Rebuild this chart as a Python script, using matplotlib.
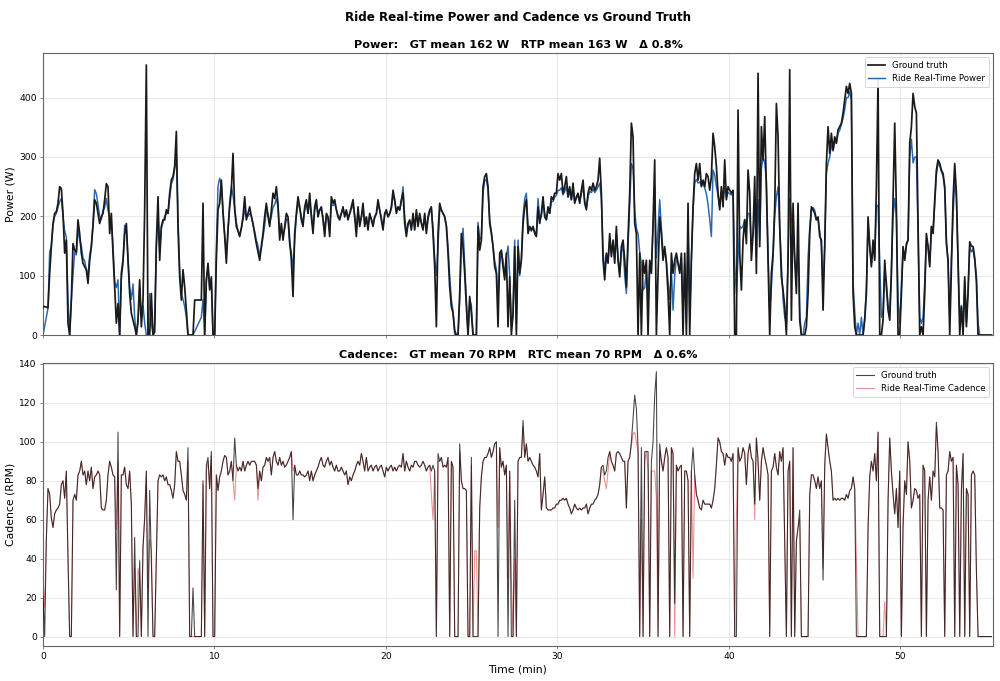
import numpy as np
import matplotlib
matplotlib.use("Agg")
import matplotlib.pyplot as plt

# samples are ~5.8 s apart (0.0972 min)
SAMPLE_MIN = 0.0972

# power, ground truth (W)
gt_power = [
    48, 48, 47, 46, 104, 149, 188, 205, 208, 222,
    250, 247, 205, 138, 160, 20, 0, 59, 154, 143,
    140, 194, 171, 138, 121, 115, 110, 87, 126, 149,
    183, 228, 222, 205, 188, 199, 205, 228, 255, 250,
    171, 205, 138, 81, 20, 53, 0, 104, 126, 170,
    188, 126, 70, 37, 25, 14, 0, 25, 93, 14,
    59, 211, 455, 0, 0, 70, 0, 5, 154, 233,
    126, 183, 194, 194, 211, 205, 239, 261, 267, 284,
    343, 180, 98, 59, 110, 81, 42, 0, 0, 0,
    0, 59, 59, 59, 59, 59, 222, 0, 93, 121,
    76, 98, 0, 0, 126, 211, 222, 261, 205, 166,
    121, 180, 216, 244, 306, 211, 183, 175, 166, 180,
    199, 233, 194, 205, 216, 200, 188, 170, 154, 140,
    126, 150, 171, 200, 222, 200, 183, 210, 239, 230,
    250, 220,
    160, 188, 160, 183, 205, 199, 160, 126, 65, 171,
    205, 233, 216, 194, 183, 216, 228, 205, 239, 199,
    171, 216, 228, 199, 211, 216, 194, 166, 205, 199,
    166, 233, 222, 228, 211, 199, 194, 205, 216, 199,
    211, 194, 205, 216, 228, 199, 166, 216, 183, 199,
    222, 183, 199, 177, 205, 194, 183, 199, 205, 228,
    211, 194, 177, 205, 211, 199, 205, 216, 244, 228,
    205, 216, 211, 228, 240, 188, 166, 188, 194, 177,
    205, 177, 211, 183, 205, 188, 177, 205, 171, 199,
    211, 216, 171, 115, 14, 171, 222, 211, 205, 199,
    183, 138, 81, 48, 37, 8, 0, 0, 70, 171,
    149, 104, 48, 0, 65, 37, 0, 0, 0, 183,
    143, 160, 250, 267, 272, 250, 188, 171, 149, 115,
    104, 14, 138, 143, 115, 93, 138, 14, 98, 0,
    37, 149, 0, 149,
    104, 126, 188, 216, 228, 171, 183, 177, 183, 171,
    166, 216, 188, 205, 233, 199, 194, 216, 205, 233,
    228, 239, 239, 272, 261, 272, 239, 250, 267, 233,
    250, 228, 256, 222, 233, 239, 222, 244, 261, 222,
    211, 239, 250, 244, 256, 244, 250, 261, 298, 239,
    126, 93, 138, 121, 171, 132, 160, 121, 183, 126,
    98, 149, 160, 126, 81, 166, 239, 357, 334, 188,
    171, 0, 138, 0, 126, 104, 126, 0, 126, 104,
    188, 295, 0, 104, 199, 171, 126, 149, 121, 70,
    0, 138, 104, 126, 138, 121, 104, 138, 0, 138,
    0, 222, 0, 126, 216, 272, 289, 261, 289, 250,
    261, 250, 272, 267, 244, 267, 340, 317, 284, 239,
    211, 250, 216, 295, 228, 250, 244, 239, 244, 0,
    0, 379, 138, 76, 160, 194, 154, 278, 239, 126,
    171, 267, 104, 441,
    149, 351, 295, 368, 250, 126, 0, 104, 138, 216,
    390, 334, 183, 98, 76, 48, 0, 126, 447, 25,
    222, 126, 70, 222, 25, 0, 0, 0, 14, 70,
    171, 216, 211, 205, 194, 199, 166, 160, 42, 149,
    289, 351, 306, 340, 312, 334, 323, 346, 351, 357,
    374, 396, 419, 407, 424, 407, 70, 14, 0, 0,
    0, 0, 0, 25, 70, 199, 149, 115, 160, 126,
    250, 430, 0, 0, 25, 126, 81, 42, 25, 104,
    228, 357, 211, 0, 0, 70, 149, 126, 154, 160,
    323, 351, 407, 385, 374, 183, 0, 14, 0, 70,
    171, 149, 115, 183, 171, 228, 278, 295, 289, 278,
    272, 250, 154, 126, 0, 115, 228, 289, 239, 126,
    0, 48, 0, 98, 14, 70, 157, 150, 149, 130,
    90, 0, 0, 0, 0, 0, 0, 0, 0, 0,
]

# power, Ride real-time estimate (W)
rtp_power = [
    0, 15, 30, 45, 140, 150, 185, 200, 205, 215,
    225, 230, 200, 175, 165, 60, 0, 60, 100, 140,
    135, 180, 160, 150, 130, 125, 110, 100, 135, 150,
    190, 245, 238, 220, 200, 195, 210, 215, 230, 210,
    200, 190, 150, 90, 80, 93, 0, 95, 120, 185,
    180, 130, 80, 60, 86, 30, 0, 20, 80, 30,
    50, 20, 0, 0, 70, 20, 0, 20, 150, 200,
    140, 180, 190, 200, 205, 205, 230, 255, 262, 280,
    300, 200, 110, 70, 60, 48, 30, 0, 0, 0,
    0, 6, 12, 18, 24, 30, 60, 0, 90, 115,
    80, 90, 0, 0, 150, 250, 264, 255, 210, 170,
    140, 170, 225, 250, 235, 215, 190, 175, 170, 180,
    195, 210, 200, 200, 205, 200, 185, 175, 160, 150,
    135, 145, 165, 185, 210, 205, 190, 200, 215, 220,
    230, 215,
    170, 175, 170, 180, 195, 195, 150, 140, 110, 160,
    200, 220, 215, 200, 190, 210, 220, 205, 225, 205,
    180, 210, 220, 205, 210, 212, 198, 178, 200, 198,
    175, 220, 218, 222, 212, 202, 198, 205, 212, 202,
    208, 198, 204, 212, 220, 202, 178, 208, 188, 198,
    215, 188, 198, 182, 202, 196, 188, 198, 204, 220,
    210, 198, 182, 202, 208, 200, 204, 212, 236, 226,
    208, 214, 210, 224, 250, 200, 175, 185, 192, 182,
    200, 182, 206, 186, 202, 190, 180, 200, 176, 196,
    206, 212, 180, 130, 100, 150, 210, 210, 205, 200,
    185, 150, 100, 60, 40, 0, 0, 0, 60, 150,
    180, 120, 60, 0, 60, 50, 0, 0, 0, 190,
    160, 165, 240, 260, 262, 245, 195, 175, 150, 125,
    110, 60, 120, 140, 125, 100, 130, 150, 100, 20,
    30, 160, 20, 160,
    100, 130, 200, 230, 239, 185, 180, 175, 180, 175,
    170, 230, 195, 200, 225, 205, 195, 210, 205, 225,
    225, 232, 236, 244, 244, 248, 236, 242, 250, 232,
    242, 228, 245, 225, 230, 235, 225, 238, 248, 226,
    215, 232, 242, 240, 246, 240, 244, 250, 256, 230,
    140, 110, 135, 125, 160, 138, 155, 128, 170, 130,
    105, 140, 150, 100, 70, 150, 220, 289, 280, 211,
    180, 171, 140, 120, 76, 80, 110, 60, 120, 110,
    180, 250, 130, 180, 228, 180, 140, 145, 125, 90,
    60, 110, 42, 100, 130, 120, 110, 130, 40, 120,
    20, 180, 30, 130, 210, 256, 262, 256, 258, 252,
    256, 248, 238, 220, 195, 166, 278, 270, 250, 235,
    215, 240, 225, 250, 232, 240, 238, 236, 238, 120,
    70, 130, 183, 180, 183, 195, 180, 205, 205, 150,
    170, 220, 130, 228,
    160, 280, 300, 290, 260, 140, 40, 80, 130, 200,
    233, 250, 180, 120, 60, 30, 20, 130, 230, 200,
    170, 130, 100, 140, 40, 0, 0, 20, 30, 130,
    180, 210, 215, 210, 195, 195, 175, 150, 80, 150,
    272, 290, 300, 320, 310, 325, 325, 340, 345, 355,
    365, 380, 400, 400, 410, 395, 90, 40, 0, 20,
    0, 30, 0, 30, 80, 190, 150, 120, 150, 130,
    220, 216, 120, 30, 40, 110, 90, 50, 40, 110,
    200, 230, 200, 60, 20, 80, 140, 130, 150, 160,
    300, 330, 290, 300, 300, 170, 30, 20, 30, 90,
    160, 150, 120, 180, 175, 220, 270, 290, 285, 275,
    268, 245, 160, 120, 30, 130, 200, 260, 230, 120,
    30, 50, 10, 90, 20, 80, 150, 140, 145, 125,
    100, 20, 0, 0, 0, 0, 0, 0, 0, 0,
]

# cadence, ground truth (RPM)
gt_cadence = [
    21, 0, 50, 76, 73, 61, 56, 63, 65, 66,
    68, 78, 80, 71, 85, 40, 0, 0, 70, 73,
    70, 83, 85, 90, 83, 85, 78, 85, 80, 87,
    76, 82, 83, 85, 83, 66, 65, 65, 70, 83,
    90, 87, 83, 82, 24, 105, 0, 83, 83, 87,
    78, 76, 85, 68, 0, 51, 0, 0, 39, 0,
    46, 61, 85, 0, 75, 39, 0, 0, 39, 80,
    83, 82, 83, 80, 82, 78, 78, 75, 71, 78,
    95, 90, 90, 83, 75, 73, 70, 97, 0, 0,
    25, 0, 0, 0, 0, 0, 80, 0, 88, 92,
    76, 95, 0, 0, 83, 75, 82, 85, 90, 93,
    92, 83, 85, 90, 80, 102, 88, 85, 87, 85,
    90, 85, 88, 90, 88, 90, 90, 90, 88, 76,
    85, 80, 87, 88, 92, 90, 92, 83, 92, 95,
    90, 88,
    92, 88, 90, 87, 88, 90, 92, 95, 60, 88,
    83, 83, 85, 83, 83, 82, 83, 85, 80, 85,
    80, 83, 85, 87, 90, 92, 88, 87, 90, 92,
    88, 90, 87, 85, 88, 85, 85, 87, 85, 83,
    85, 78, 82, 80, 83, 85, 88, 90, 88, 94,
    90, 85, 92, 85, 87, 88, 85, 87, 88, 85,
    87, 88, 85, 82, 87, 85, 87, 88, 85, 87,
    85, 87, 88, 87, 94, 85, 90, 87, 85, 88,
    87, 90, 90, 88, 87, 88, 90, 88, 85, 87,
    88, 85, 88, 85, 0, 94, 90, 92, 87, 88,
    87, 92, 0, 90, 87, 0, 0, 0, 99, 80,
    76, 76, 75, 0, 0, 92, 0, 0, 0, 0,
    66, 82, 90, 92, 92, 94, 97, 92, 95, 99,
    100, 0, 97, 87, 90, 83, 88, 0, 85, 0,
    0, 70, 0, 90,
    92, 92, 111, 92, 99, 90, 92, 90, 88, 87,
    85, 82, 94, 65, 73, 82, 66, 65, 65, 65,
    66, 66, 68, 68, 70, 70, 71, 70, 71, 68,
    66, 63, 65, 68, 66, 65, 66, 65, 66, 66,
    68, 63, 66, 68, 68, 70, 71, 73, 78, 87,
    88, 83, 85, 92, 95, 90, 88, 85, 94, 95,
    94, 92, 90, 90, 66, 90, 92, 100, 112, 124,
    117, 97, 0, 97, 0, 95, 95, 95, 0, 90,
    100, 124, 136, 0, 99, 90, 85, 92, 97, 92,
    0, 97, 94, 17, 88, 85, 87, 88, 0, 85,
    85, 80, 0, 85, 97, 83, 73, 70, 66, 65,
    70, 68, 68, 68, 68, 66, 70, 76, 88, 102,
    100, 95, 94, 88, 94, 92, 92, 90, 94, 0,
    0, 97, 90, 92, 97, 94, 78, 94, 99, 92,
    90, 68, 102, 90,
    70, 90, 97, 92, 88, 83, 0, 85, 87, 94,
    87, 83, 95, 90, 97, 49, 0, 85, 90, 0,
    97, 0, 49, 56, 65, 0, 0, 0, 0, 0,
    73, 83, 83, 80, 76, 82, 76, 80, 29, 88,
    104, 97, 90, 85, 70, 71, 70, 71, 70, 71,
    71, 70, 73, 71, 75, 76, 82, 76, 0, 0,
    0, 0, 0, 0, 0, 56, 82, 90, 85, 94,
    80, 105, 0, 0, 0, 0, 0, 70, 102, 85,
    73, 63, 76, 56, 85, 0, 56, 80, 73, 100,
    90, 66, 70, 76, 75, 71, 73, 0, 88, 85,
    0, 70, 82, 70, 85, 82, 110, 95, 66, 66,
    65, 0, 83, 85, 95, 90, 92, 0, 88, 78,
    0, 75, 94, 0, 76, 73, 0, 83, 85, 83,
    34, 0, 0, 0, 0, 0, 0, 0, 0, 0,
]

# cadence, Ride real-time estimate (RPM)
rtc_cadence = [
    30, 15, 50, 76, 73, 61, 56, 63, 65, 66,
    68, 78, 80, 71, 85, 40, 0, 0, 70, 73,
    70, 83, 85, 90, 83, 85, 78, 85, 80, 87,
    76, 82, 83, 85, 83, 66, 65, 65, 70, 83,
    90, 87, 83, 82, 55, 90, 0, 83, 83, 87,
    78, 76, 85, 68, 0, 35, 0, 35, 30, 0,
    46, 61, 85, 25, 50, 45, 0, 0, 39, 80,
    83, 82, 83, 80, 82, 78, 78, 75, 71, 78,
    95, 90, 90, 83, 75, 73, 70, 90, 0, 0,
    0, 0, 0, 0, 0, 0, 78, 0, 85, 90,
    76, 93, 0, 0, 83, 75, 82, 85, 90, 93,
    92, 83, 85, 90, 80, 70, 88, 85, 87, 85,
    90, 85, 88, 90, 88, 90, 90, 90, 88, 70,
    85, 80, 87, 88, 92, 90, 92, 83, 92, 95,
    90, 88,
    92, 88, 90, 87, 88, 90, 92, 95, 85, 88,
    83, 83, 85, 83, 83, 82, 83, 85, 80, 85,
    80, 83, 85, 87, 90, 92, 88, 87, 90, 92,
    88, 90, 87, 85, 88, 85, 85, 87, 85, 83,
    85, 78, 82, 80, 83, 85, 88, 90, 88, 94,
    90, 85, 92, 85, 87, 88, 85, 87, 88, 85,
    87, 88, 85, 82, 87, 85, 87, 88, 85, 87,
    85, 87, 88, 87, 94, 85, 90, 87, 85, 88,
    87, 90, 90, 88, 87, 88, 90, 88, 85, 87,
    88, 73, 60, 85, 0, 90, 90, 92, 87, 88,
    87, 92, 0, 90, 87, 0, 0, 0, 95, 80,
    76, 76, 75, 0, 0, 88, 0, 44, 44, 0,
    66, 82, 90, 92, 92, 94, 97, 92, 95, 99,
    100, 56, 97, 87, 90, 83, 88, 30, 85, 30,
    0, 40, 0, 90,
    92, 92, 108, 92, 99, 90, 92, 90, 88, 87,
    85, 82, 94, 65, 73, 82, 66, 65, 65, 65,
    66, 66, 68, 68, 70, 70, 71, 70, 71, 68,
    66, 63, 65, 68, 66, 65, 66, 65, 66, 66,
    68, 63, 66, 68, 68, 70, 71, 73, 78, 87,
    85, 80, 76, 85, 95, 90, 88, 85, 94, 95,
    94, 92, 90, 90, 66, 90, 92, 98, 104, 105,
    100, 95, 0, 60, 0, 90, 95, 85, 0, 85,
    85, 85, 71, 0, 95, 90, 85, 92, 97, 92,
    0, 97, 94, 0, 88, 85, 87, 88, 0, 85,
    85, 80, 0, 85, 30, 83, 73, 70, 66, 65,
    70, 68, 68, 68, 68, 66, 70, 76, 88, 102,
    100, 95, 94, 88, 94, 92, 92, 90, 94, 0,
    60, 97, 90, 92, 97, 94, 78, 94, 99, 92,
    90, 60, 102, 90,
    70, 90, 97, 92, 88, 83, 0, 85, 87, 94,
    87, 83, 95, 90, 97, 49, 0, 85, 90, 0,
    97, 0, 49, 56, 60, 0, 0, 0, 0, 0,
    73, 83, 83, 80, 76, 82, 76, 80, 35, 88,
    104, 97, 90, 85, 70, 71, 70, 71, 70, 71,
    71, 70, 73, 71, 75, 76, 82, 76, 40, 0,
    0, 0, 0, 0, 0, 56, 82, 90, 85, 94,
    80, 105, 0, 0, 0, 18, 0, 70, 102, 85,
    73, 63, 76, 56, 85, 0, 60, 80, 73, 100,
    90, 66, 70, 76, 75, 71, 73, 0, 88, 85,
    0, 70, 82, 70, 85, 82, 108, 95, 66, 66,
    65, 0, 83, 85, 95, 90, 92, 0, 88, 78,
    0, 75, 94, 0, 76, 73, 0, 83, 85, 83,
    34, 0, 0, 0, 0, 0, 0, 0, 0, 0,
]

power_title = "Power:   GT mean 162 W   RTP mean 163 W   \u0394 0.8%"
cadence_title = "Cadence:   GT mean 70 RPM   RTC mean 70 RPM   \u0394 0.6%"

t_power = np.arange(len(gt_power)) * SAMPLE_MIN
t_cad = np.arange(len(gt_cadence)) * SAMPLE_MIN

# figure drawn at 16in and saved at 62.5 dpi -> 1000 x 681 px
fig = plt.figure(figsize=(16, 10.896), dpi=62.5)
ax1 = fig.add_axes([0.043, 0.508, 0.950, 0.414])
ax2 = fig.add_axes([0.043, 0.051, 0.950, 0.416], sharex=ax1)

fig.text(0.518, 0.9736, "Ride Real-time Power and Cadence vs Ground Truth",
         ha="center", va="center", fontsize=13.7, fontweight="bold")

# power panel
ax1.plot(t_power, gt_power, color="#1a1a1a", lw=2.0, label="Ground truth", zorder=3)
ax1.plot(t_power[:len(rtp_power)], rtp_power[:len(t_power)], color="#2866b0", lw=1.7,
         label="Ride Real-Time Power", zorder=2)
ax1.set_ylim(0, 475)
ax1.set_yticks([0, 100, 200, 300, 400])
ax1.set_ylabel("Power (W)", fontsize=12.5)
ax1.set_title(power_title, fontsize=13, fontweight="bold", pad=6)
ax1.legend(loc="upper right", fontsize=10, framealpha=0.9)
ax1.tick_params(labelbottom=False)

# cadence panel
ax2.plot(t_cad, gt_cadence, color="black", alpha=0.72, lw=1.25, label="Ground truth", zorder=3)
ax2.plot(t_cad[:len(rtc_cadence)], rtc_cadence[:len(t_cad)], color="#d62728", alpha=0.5,
         lw=1.25, label="Ride Real-Time Cadence", zorder=2)
ax2.set_ylim(-5, 140.5)
ax2.set_yticks(range(0, 141, 20))
ax2.set_ylabel("Cadence (RPM)", fontsize=12.5)
ax2.set_xlabel("Time (min)", fontsize=12.5)
ax2.set_title(cadence_title, fontsize=13, fontweight="bold", pad=6)
ax2.legend(loc="upper right", fontsize=10, framealpha=0.9)

ax2.set_xlim(0, 55.4)
ax2.set_xticks([0, 10, 20, 30, 40, 50])

for ax in (ax1, ax2):
    ax.grid(True, color="#e4e4e4", lw=0.9)
    ax.set_axisbelow(True)
    ax.tick_params(labelsize=10.5, color="#555555")
    for sp in ax.spines.values():
        sp.set_color("#666666")
        sp.set_linewidth(1.3)

fig.savefig("out.png", dpi=62.5)
